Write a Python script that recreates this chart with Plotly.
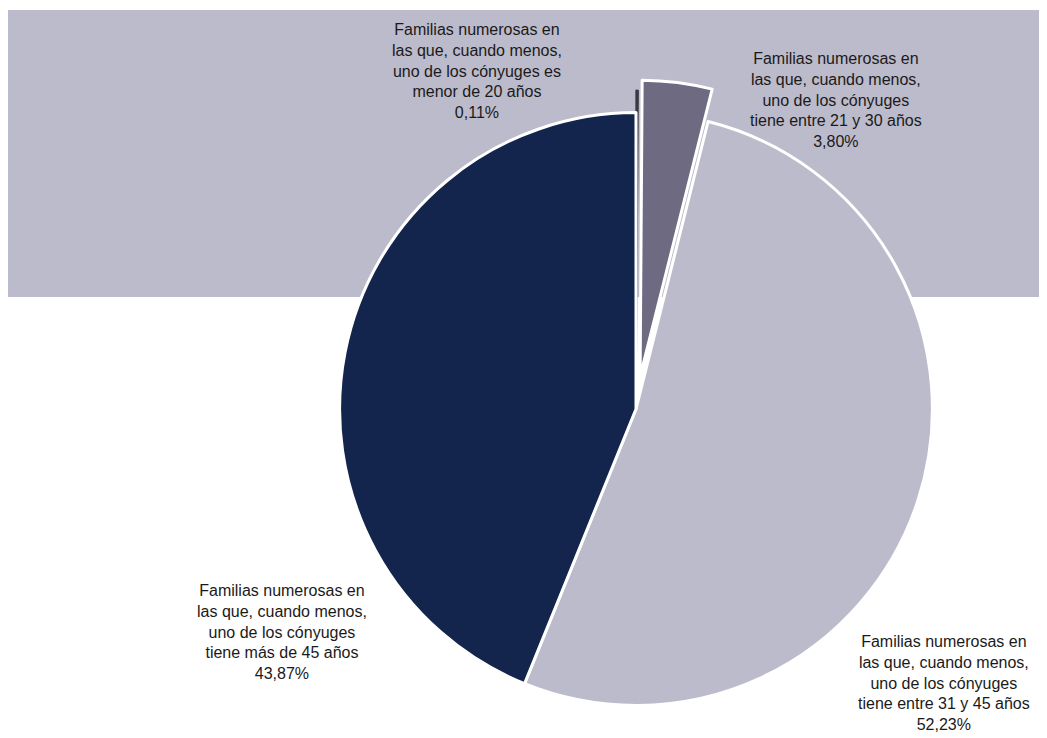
import plotly.graph_objects as go

labels = [
    "Familias numerosas en<br>las que, cuando menos,<br>uno de los cónyuges es<br>menor de 20 años",
    "Familias numerosas en<br>las que, cuando menos,<br>uno de los cónyuges<br>tiene entre 21 y 30 años",
    "Familias numerosas en<br>las que, cuando menos,<br>uno de los cónyuges<br>tiene entre 31 y 45 años",
    "Familias numerosas en<br>las que, cuando menos,<br>uno de los cónyuges<br>tiene más de 45 años",
]
values = [0.11, 3.80, 52.23, 43.87]
pct_text = ["0,11%", "3,80%", "52,23%", "43,87%"]
colors = ["#3a3a44", "#6d6a82", "#bcbbcb", "#13254d"]
pulls = [0.075, 0.11, 0, 0]

# page has an 8px body margin: figure occupies the window minus 8px
W, H = 1039, 730
OFF = 8


def px(x):
    return (x - OFF) / W


def py(y):
    return 1 - (y - OFF) / H


cx, cy = 636, 409
half = H - (cy - OFF)  # distance from center to bottom of figure

fig = go.Figure()
fig.add_trace(go.Pie(
    labels=labels,
    values=values,
    sort=False,
    direction="clockwise",
    rotation=0,
    pull=pulls,
    textinfo="none",
    hoverinfo="label+percent",
    marker=dict(colors=colors,
                line=dict(color=["#3a3a44", "white", "white", "white"], width=[1.5, 3, 3, 3])),
    domain=dict(x=[px(cx - half), px(cx + half)], y=[0, 2 * half / H]),
    showlegend=False,
))

label_pos = [(477, 71), (836, 100), (944, 683), (282, 632)]
for lab, pct, (x, y) in zip(labels, pct_text, label_pos):
    fig.add_annotation(
        x=px(x), y=py(y), xref="paper", yref="paper",
        text=lab + "<br>" + pct,
        showarrow=False, xanchor="center", yanchor="middle", align="center",
        font=dict(family="Liberation Sans, Arial, sans-serif", size=16, color="#1a1a1a"),
    )

fig.add_shape(type="rect", xref="paper", yref="paper",
              x0=0, x1=1, y0=py(297), y1=py(10),
              fillcolor="#bcbbcb", line=dict(width=0), layer="below")

fig.update_layout(
    width=W, height=H,
    margin=dict(l=0, r=0, t=0, b=0),
    paper_bgcolor="white",
    plot_bgcolor="white",
)

fig.write_html("out.html")
